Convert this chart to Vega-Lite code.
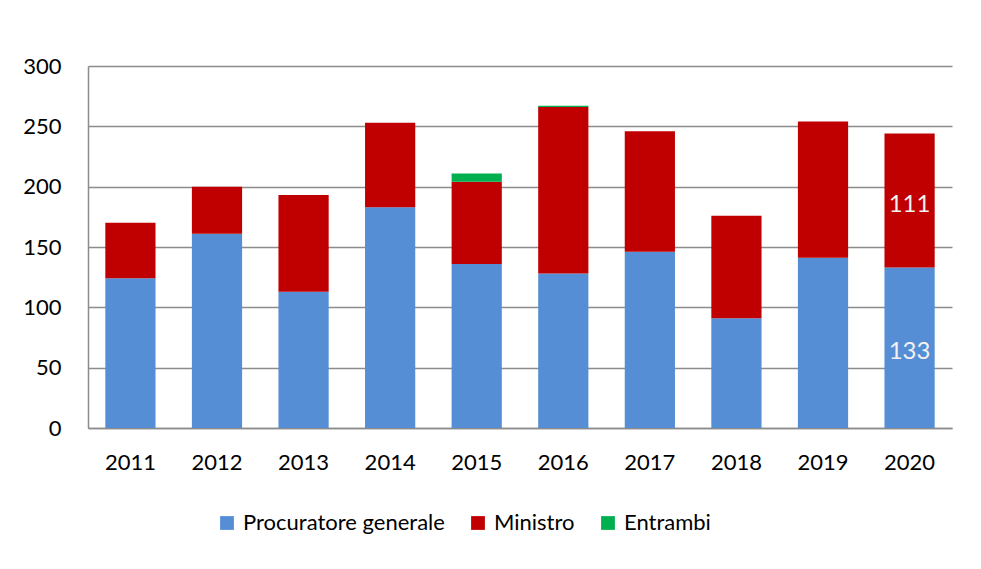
{
  "$schema": "https://vega.github.io/schema/vega-lite/v6.json",
  "width": 864,
  "height": 362,
  "autosize": {"type": "none"},
  "padding": {"left": 88, "top": 66, "right": 29, "bottom": 141},
  "background": "white",
  "config": {
    "font": "Lato",
    "view": {"stroke": null},
    "axis": {"labelFont": "Lato", "labelFontSize": 22, "labelColor": "#000000", "domainColor": "#8c8c8c", "domainWidth": 1.5, "gridColor": "#8c8c8c", "gridWidth": 1.5, "tickSize": 0, "title": null}
  },
  "data": {
    "values": [
      {"year": "2011", "serie": "Procuratore generale", "value": 124},
      {"year": "2011", "serie": "Ministro", "value": 46},
      {"year": "2012", "serie": "Procuratore generale", "value": 161},
      {"year": "2012", "serie": "Ministro", "value": 39},
      {"year": "2013", "serie": "Procuratore generale", "value": 113},
      {"year": "2013", "serie": "Ministro", "value": 80},
      {"year": "2014", "serie": "Procuratore generale", "value": 183},
      {"year": "2014", "serie": "Ministro", "value": 70},
      {"year": "2015", "serie": "Procuratore generale", "value": 136},
      {"year": "2015", "serie": "Ministro", "value": 68},
      {"year": "2015", "serie": "Entrambi", "value": 7},
      {"year": "2016", "serie": "Procuratore generale", "value": 128},
      {"year": "2016", "serie": "Ministro", "value": 138},
      {"year": "2016", "serie": "Entrambi", "value": 1},
      {"year": "2017", "serie": "Procuratore generale", "value": 146},
      {"year": "2017", "serie": "Ministro", "value": 100},
      {"year": "2018", "serie": "Procuratore generale", "value": 91},
      {"year": "2018", "serie": "Ministro", "value": 85},
      {"year": "2019", "serie": "Procuratore generale", "value": 141},
      {"year": "2019", "serie": "Ministro", "value": 113},
      {"year": "2020", "serie": "Procuratore generale", "value": 133},
      {"year": "2020", "serie": "Ministro", "value": 111}
    ]
  },
  "layer": [
    {
      "mark": {"type": "bar"},
      "encoding": {
        "x": {"field": "year", "type": "nominal", "scale": {"paddingInner": 0.42, "paddingOuter": 0.2}, "axis": {"labelAngle": 0, "labelPadding": 24, "grid": false}},
        "y": {"field": "value", "type": "quantitative", "stack": "zero", "scale": {"domain": [0, 300]}, "axis": {"values": [0, 50, 100, 150, 200, 250, 300], "labelPadding": 27}},
        "color": {"field": "serie", "type": "nominal", "scale": {"domain": ["Procuratore generale", "Ministro", "Entrambi"], "range": ["#558ED5", "#C00000", "#00B050"]},
          "legend": {"title": null, "orient": "none", "direction": "horizontal", "legendX": 128, "legendY": 446, "symbolType": "square", "symbolSize": 190, "symbolStrokeWidth": 0, "symbolOpacity": 1, "labelFontSize": 22, "labelFont": "Lato", "labelColor": "#000000", "labelLimit": 500, "columnPadding": 22, "labelOffset": 5}},
        "order": {"field": "serie", "sort": "descending"}
      }
    },
    {
      "transform": [
        {"stack": "value", "groupby": ["year"], "sort": [{"field": "serie", "order": "descending"}], "as": ["v0", "v1"]},
        {"filter": "datum.year == '2020'"},
        {"calculate": "(datum.v0 + datum.v1) / 2", "as": "mid"}
      ],
      "mark": {"type": "text", "fontSize": 24, "color": "#f2f2f2", "baseline": "middle", "align": "center", "dy": 4},
      "encoding": {
        "x": {"field": "year", "type": "nominal"},
        "y": {"field": "mid", "type": "quantitative"},
        "text": {"field": "value", "type": "quantitative"}
      }
    }
  ]
}
